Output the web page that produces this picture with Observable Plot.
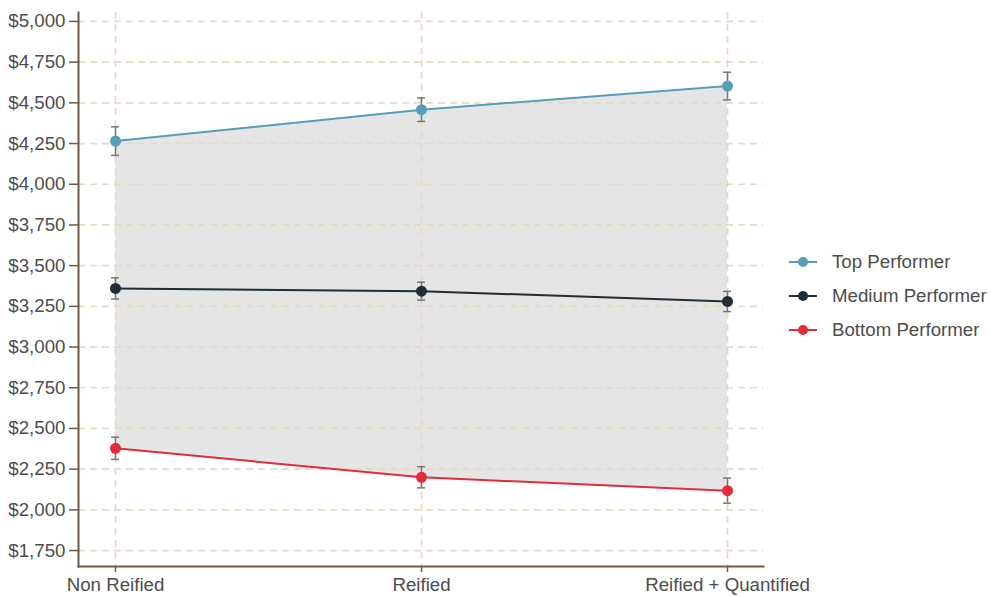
<!DOCTYPE html>
<html>
<head>
<meta charset="utf-8">
<script src="https://cdn.jsdelivr.net/npm/d3@7"></script>
<script src="https://cdn.jsdelivr.net/npm/@observablehq/plot@0.6"></script>
<style>
  html, body { margin: 0; padding: 0; background: #fff; }
  #wrap { position: relative; width: 991px; height: 597px; font-family: "Liberation Sans", Arial, sans-serif; }
  #legend { position: absolute; left: 789px; top: 245px; font-size: 18.7px; color: #4d4d4d; }
  .item { display: flex; align-items: center; height: 34px; }
  .item svg { margin-right: 15px; }
</style>
</head>
<body>
<div id="wrap"><div id="legend"></div></div>
<script>
const categories = ["Non Reified", "Reified", "Reified + Quantified"];
const seriesNames = ["Top Performer", "Medium Performer", "Bottom Performer"];
const seriesColors = ["#559fba", "#1e2d38", "#e22b3b"];
const topValues = [4265, 4458, 4603];
const topErr = [88, 72, 85];
const mediumValues = [3360, 3343, 3280];
const mediumErr = [65, 55, 62];
const bottomValues = [2378, 2200, 2118];
const bottomErr = [68, 65, 77];
const yTicks = [1750, 2000, 2250, 2500, 2750, 3000, 3250, 3500, 3750, 4000, 4250, 4500, 4750, 5000];

const seriesVals = [topValues, mediumValues, bottomValues];
const seriesErrs = [topErr, mediumErr, bottomErr];
const rows = [];
seriesNames.forEach((s, i) => categories.forEach((c, j) => rows.push({
  series: s, cat: c, value: seriesVals[i][j],
  lo: seriesVals[i][j] - seriesErrs[i][j], hi: seriesVals[i][j] + seriesErrs[i][j]
})));
const ribbon = categories.map((c, j) => ({cat: c, lo: bottomValues[j], hi: topValues[j]}));

const gridColor = "#e6d9c6";
const axisColor = "#6e5a44";

const chart = Plot.plot({
  width: 991, height: 597,
  marginLeft: 78, marginRight: 228, marginTop: 12, marginBottom: 31,
  style: {fontFamily: "'Liberation Sans', Arial, sans-serif", fontSize: "18.7px", color: "#4d4d4d", background: "transparent"},
  x: {type: "band", domain: categories, paddingInner: 0.974, paddingOuter: 0.106, label: null},
  y: {domain: [1652, 5055], label: null},
  color: {domain: seriesNames, range: seriesColors},
  marks: [
    Plot.areaY(ribbon, {x: "cat", y1: "lo", y2: "hi", fill: "#e5e5e5", curve: "linear"}),
    Plot.gridY(yTicks, {stroke: gridColor, strokeOpacity: 1, strokeWidth: 1.7, strokeDasharray: "7,5"}),
    Plot.gridX(categories, {stroke: gridColor, strokeOpacity: 1, strokeWidth: 1.7, strokeDasharray: "7,5"}),
    Plot.ruleX(rows, {x: "cat", y1: "lo", y2: "hi", stroke: "#777", strokeWidth: 1.5}),
    Plot.tickY(rows, {x: "cat", y: "lo", stroke: "#777", strokeWidth: 1.5}),
    Plot.tickY(rows, {x: "cat", y: "hi", stroke: "#777", strokeWidth: 1.5}),
    Plot.line(rows, {x: "cat", y: "value", z: "series", stroke: "series", strokeWidth: 2}),
    Plot.dot(rows, {x: "cat", y: "value", fill: "series", r: 5.5}),
    Plot.axisY(yTicks, {tickFormat: d3.format("$,"), tickSize: 9, tickPadding: 4, fontSize: 18.7, stroke: axisColor, strokeWidth: 1.5, fill: "#4d4d4d"}),
    Plot.axisX(categories, {tickSize: 6, tickPadding: 5, fontSize: 18.7, stroke: axisColor, strokeWidth: 1.5, fill: "#4d4d4d"}),
    Plot.frame({anchor: "left", stroke: axisColor, strokeWidth: 2, strokeOpacity: 1}),
    Plot.frame({anchor: "bottom", stroke: axisColor, strokeWidth: 2, strokeOpacity: 1})
  ]
});
document.getElementById("wrap").prepend(chart);

const legend = document.getElementById("legend");
seriesNames.forEach((s, i) => {
  const div = document.createElement("div");
  div.className = "item";
  div.innerHTML = `<svg width="28" height="14"><line x1="0" x2="28" y1="7" y2="7" stroke="${seriesColors[i]}" stroke-width="2"/><circle cx="14" cy="7" r="5" fill="${seriesColors[i]}"/></svg><span>${s}</span>`;
  legend.appendChild(div);
});
</script>
</body>
</html>
